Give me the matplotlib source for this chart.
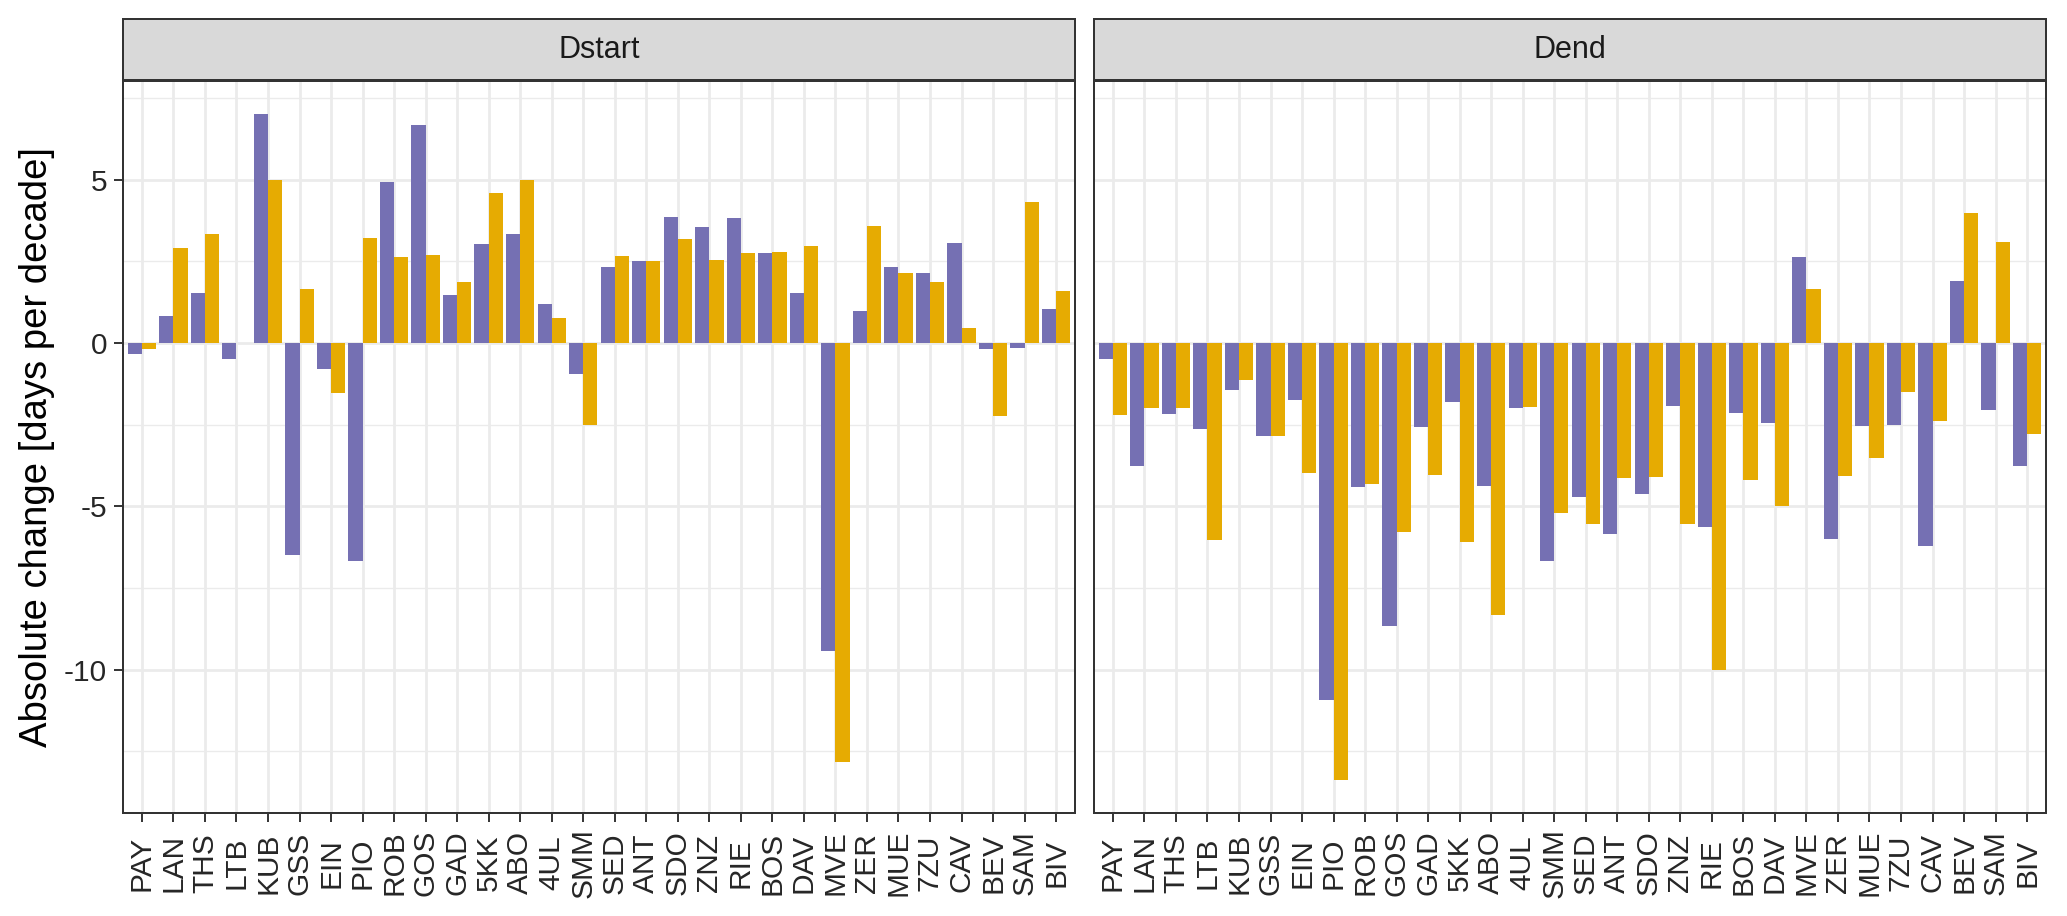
import numpy as np
import matplotlib
matplotlib.use('Agg')
import matplotlib.pyplot as plt

plt.rcParams['font.family'] = ['Liberation Sans', 'DejaVu Sans']

# stations (x axis)
stations = ['PAY', 'LAN', 'THS', 'LTB', 'KUB', 'GSS', 'EIN', 'PIO', 'ROB', 'GOS',
            'GAD', '5KK', 'ABO', '4UL', 'SMM', 'SED', 'ANT', 'SDO', 'ZNZ', 'RIE',
            'BOS', 'DAV', 'MVE', 'ZER', 'MUE', '7ZU', 'CAV', 'BEV', 'SAM', 'BIV']

# Dstart, first (purple) and second (yellow) series
dstart_a = [-0.33, 0.84, 1.53, -0.50, 7.00, -6.49, -0.81, -6.68, 4.93, 6.67,
            1.48, 3.04, 3.33, 1.19, -0.96, 2.32, 2.50, 3.87, 3.54, 3.84,
            2.76, 1.53, -9.44, 0.97, 2.34, 2.13, 3.07, -0.19, -0.16, 1.03]
dstart_b = [-0.18, 2.92, 3.33, np.nan, 4.98, 1.65, -1.54, 3.22, 2.63, 2.68,
            1.87, 4.59, 4.99, 0.76, -2.50, 2.66, 2.50, 3.19, 2.55, 2.74,
            2.79, 2.98, -12.83, 3.57, 2.15, 1.88, 0.47, -2.23, 4.32, 1.58]

# Dend
dend_a = [-0.48, -3.78, -2.17, -2.62, -1.45, -2.86, -1.75, -10.92, -4.41, -8.67,
          -2.57, -1.82, -4.39, -2.00, -6.67, -4.73, -5.86, -4.61, -1.94, -5.63,
          -2.13, -2.45, 2.63, -5.99, -2.54, -2.51, -6.22, 1.89, -2.05, -3.76]
dend_b = [-2.20, -2.00, -2.00, -6.02, -1.13, -2.84, -3.98, -13.37, -4.31, -5.79,
          -4.03, -6.10, -8.32, -1.95, -5.20, -5.55, -4.13, -4.10, -5.55, -10.00,
          -4.21, -5.00, 1.65, -4.08, -3.53, -1.49, -2.39, 3.99, 3.09, -2.80]

facets = ['Dstart', 'Dend']
purple = '#7570B3'
yellow = '#E6AB02'

W, H = 2067., 916.
fig = plt.figure(figsize=(W / 100, H / 100), dpi=100)

x = np.arange(len(stations))
panels = [(dstart_a, dstart_b, 123), (dend_a, dend_b, 1094)]

for i, (va, vb, left) in enumerate(panels):
    ax = fig.add_axes([left / W, 1 - 813 / H, 952 / W, (813 - 81) / H])
    ax.bar(x - 0.225, va, width=0.45, color=purple, zorder=3)
    ax.bar(x + 0.225, vb, width=0.45, color=yellow, zorder=3)
    ax.set_xlim(-0.6, len(stations) - 0.4)
    ax.set_ylim(-14.39, 8.02)
    ax.set_yticks([-10, -5, 0, 5])
    ax.set_yticklabels(['-10', '-5', '0', '5'])
    ax.set_yticks([-12.5, -7.5, -2.5, 2.5, 7.5], minor=True)
    ax.set_xticks(x)
    ax.set_xticklabels(stations, rotation=90)
    for lab in ax.get_xticklabels():
        lab.set_va('center')
    ax.grid(which='major', color='#EBEBEB', lw=1.95, zorder=0)
    ax.grid(which='minor', axis='y', color='#EBEBEB', lw=1.0, zorder=0)
    ax.set_axisbelow(True)
    for s in ax.spines.values():
        s.set_color('#333333')
        s.set_linewidth(1.44)
    ax.tick_params(which='major', length=6.5, width=1.4, color='#333333',
                   labelsize=21.5, labelcolor='#262626')
    ax.tick_params(axis='x', pad=29.5)
    ax.tick_params(axis='y', pad=5)
    ax.tick_params(which='minor', length=0)
    if i == 1:
        ax.tick_params(axis='y', left=False, labelleft=False)

    # facet strip
    st = fig.add_axes([left / W, 1 - 80 / H, 952 / W, 61 / H])
    st.set_facecolor('#D9D9D9')
    st.set_xticks([])
    st.set_yticks([])
    for s in st.spines.values():
        s.set_color('#333333')
        s.set_linewidth(1.44)
    st.text(0.5, 0.5, facets[i], ha='center', va='center', fontsize=22,
            color='#1A1A1A', transform=st.transAxes)

fig.text(37 / W, 1 - 447 / H, 'Absolute change [days per decade]', rotation=90,
         ha='center', va='center', fontsize=27.5, color='black')

fig.savefig('out.png', dpi=100)
